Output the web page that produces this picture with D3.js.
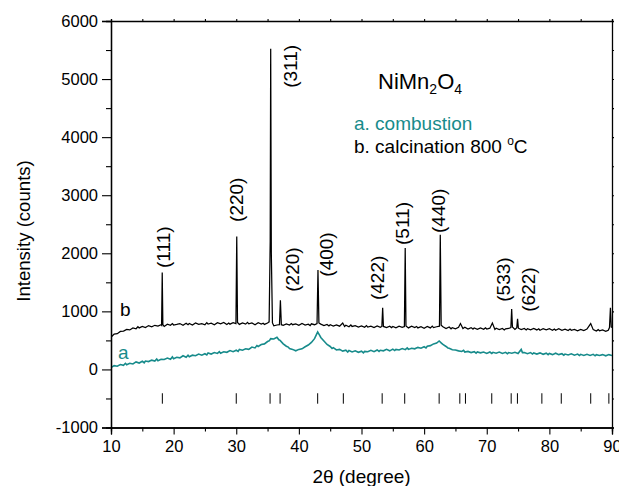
<!DOCTYPE html>
<html lang="en">
<head>
  <meta charset="UTF-8">
  <title>NiMn2O4 XRD</title>
  <script src="https://d3js.org/d3.v7.min.js"></script>
  <style>
    body { margin: 0; background: #fff; }
    text { font-family: Arial, "Liberation Sans", sans-serif; }
  </style>
</head>
<body>
<svg id="canvas" width="619" height="486"></svg>
<script>
// pattern b: calcination 800 C  [2theta, counts]
var seriesB = [
  [10.0,555],[10.5,610],[11.0,615],[11.5,655],[12.0,660],[12.5,690],[13.0,680],[13.5,715],[14.0,700],[14.3,735],
  [14.5,715],[15.0,740],[15.5,720],[16.0,755],[16.5,735],[17.0,760],[17.5,745],[18.0,770],
  [18.08,760],[18.18,1670],[18.28,770],
  [18.5,740],[19.0,780],[19.5,760],[19.8,790],[20.0,765],[20.5,775],[21.0,790],[21.5,760],[22.0,795],[22.3,770],
  [22.5,790],[23.0,765],[23.5,800],[24.0,775],[24.5,790],[25.0,770],[25.3,805],[25.5,780],[26.0,795],[26.5,770],
  [27.0,805],[27.5,785],[28.0,810],[28.5,775],[28.8,800],[29.0,780],[29.5,805],
  [29.95,790],[30.08,2290],[30.2,810],
  [30.5,775],[31.0,800],[31.5,780],[31.8,810],[32.0,785],[32.5,800],[33.0,770],[33.5,805],[34.0,780],[34.3,795],
  [34.5,775],[35.0,800],
  [35.25,820],[35.42,2200],[35.5,5520],[35.6,2000],[35.78,800],
  [36.0,750],[36.5,765],
  [36.9,770],[37.05,1190],[37.2,770],
  [37.5,760],[38.0,785],[38.5,765],[38.8,790],[39.0,770],[39.5,785],[40.0,760],[40.5,790],[41.0,765],[41.5,780],
  [41.8,755],[42.0,785],[42.5,770],
  [42.9,790],[43.05,1710],[43.2,800],
  [43.5,780],[44.0,755],[44.5,775],[44.8,750],[45.0,770],[45.5,745],[46.0,765],[46.5,745],[47.0,800],[47.3,740],
  [47.5,760],[48.0,735],[48.3,765],[48.5,740],[49.0,755],[49.5,730],[50.0,750],[50.5,725],[50.8,755],[51.0,730],
  [51.5,745],[52.0,720],[52.5,750],[53.0,725],
  [53.25,740],[53.38,1060],[53.5,740],
  [54.0,720],[54.5,745],[54.8,720],[55.0,740],[55.5,715],[56.0,745],[56.5,725],
  [56.85,740],[56.98,2090],[57.1,750],
  [57.5,715],[58.0,745],[58.5,720],[58.8,740],[59.0,715],[59.5,735],[60.0,710],[60.5,740],[61.0,715],[61.3,745],
  [61.5,720],[62.0,735],
  [62.45,745],[62.58,2320],[62.72,760],
  [63.0,735],[63.5,705],[64.0,730],[64.3,700],[64.5,720],[65.0,700],[65.5,725],[65.8,790],[66.2,705],[66.5,725],
  [67.0,695],[67.5,720],[67.8,695],[68.0,715],[68.5,690],[69.0,715],[69.5,690],[69.8,715],[70.0,695],[70.5,710],
  [70.9,800],[71.3,690],[71.5,710],[72.0,685],[72.5,705],[72.8,680],[73.0,700],[73.5,705],
  [73.85,720],[73.98,1040],[74.1,730],
  [74.5,690],
  [74.8,720],[74.92,870],[75.05,710],
  [75.5,685],[76.0,705],[76.3,680],[76.5,700],[77.0,680],[77.5,705],[78.0,680],[78.3,700],[78.5,675],[79.0,700],
  [79.5,680],[80.0,700],[80.5,675],[80.8,695],[81.0,675],[81.5,700],[82.0,675],[82.5,695],[83.0,670],[83.3,695],
  [83.5,675],[84.0,690],[84.5,665],[85.0,690],[85.5,670],[86.0,695],[86.6,790],[87.0,685],[87.5,660],[87.8,685],
  [88.0,665],[88.5,680],[89.0,655],[89.4,675],
  [89.6,720],[89.75,1060],[89.88,730],[90.0,720]
];

// pattern a: combustion  [2theta, counts]
var seriesA = [
  [10.0,30],[10.5,65],[11.0,55],[11.5,85],[12.0,70],[12.3,105],[12.5,80],[13.0,105],[13.5,95],[14.0,130],
  [14.5,110],[15.0,140],[15.3,115],[15.5,145],[16.0,135],[16.5,160],[17.0,145],[17.3,180],[17.5,150],[18.0,175],
  [18.5,170],[19.0,195],[19.5,175],[19.8,215],[20.0,185],[20.5,210],[21.0,200],[21.5,235],[22.0,210],[22.3,245],
  [22.5,220],[23.0,245],[23.5,235],[24.0,265],[24.5,245],[25.0,270],[25.3,250],[25.5,285],[26.0,265],[26.5,290],
  [27.0,275],[27.3,305],[27.5,280],[28.0,305],[28.5,295],[29.0,325],[29.5,305],[30.0,330],[30.3,310],[30.5,345],
  [31.0,330],[31.5,355],[32.0,345],[32.5,385],[33.0,370],[33.3,410],[33.5,395],[34.0,430],[34.5,440],[35.0,480],
  [35.3,495],[35.5,530],[36.0,525],[36.5,555],[36.8,510],[37.0,500],[37.5,440],[38.0,400],[38.3,385],[38.5,360],
  [39.0,345],[39.5,320],[40.0,345],[40.5,355],[41.0,390],[41.5,420],[42.0,465],[42.5,530],[42.8,600],[43.0,645],
  [43.3,590],[43.5,550],[44.0,490],[44.5,430],[45.0,395],[45.3,360],[45.5,375],[46.0,335],[46.5,345],[47.0,315],
  [47.5,330],[47.8,300],[48.0,325],[48.5,300],[49.0,320],[49.5,295],[50.0,315],[50.3,285],[50.5,310],[51.0,305],
  [51.5,330],[52.0,305],[52.5,335],[52.8,310],[53.0,330],[53.5,320],[54.0,345],[54.5,320],[55.0,350],[55.3,325],
  [55.5,345],[56.0,335],[56.5,360],[57.0,340],[57.3,370],[57.5,345],[58.0,365],[58.5,355],[59.0,380],[59.5,365],
  [60.0,390],[60.3,370],[60.5,400],[61.0,410],[61.5,440],[62.0,455],[62.4,490],[62.8,450],[63.0,430],[63.5,395],
  [63.8,370],[64.0,365],[64.5,340],[65.0,335],[65.5,320],[66.0,310],[66.3,330],[66.5,300],[67.0,310],[67.5,290],
  [68.0,305],[68.3,280],[68.5,300],[69.0,285],[69.5,300],[70.0,275],[70.5,300],[70.8,275],[71.0,295],[71.5,280],
  [72.0,300],[72.5,275],[73.0,295],[73.3,270],[73.5,290],[74.0,280],[74.5,295],[75.0,275],[75.5,345],[75.7,290],
  [76.0,290],[76.5,270],[77.0,290],[77.3,265],[77.5,285],[78.0,265],[78.5,285],[79.0,260],[79.5,280],[79.8,255],
  [80.0,275],[80.5,255],[81.0,280],[81.5,255],[82.0,270],[82.3,245],[82.5,265],[83.0,250],[83.5,270],[84.0,245],
  [84.5,265],[84.8,240],[85.0,260],[85.5,240],[86.0,260],[86.5,240],[87.0,260],[87.3,235],[87.5,255],[88.0,240],
  [88.5,255],[89.0,235],[89.5,255],[90.0,240]
];

// reference reflection positions (2theta)
var refPositions = [18.2, 30.0, 35.4, 37.0, 43.0, 47.1, 53.3, 56.9, 62.4, 65.7, 66.6, 70.8, 73.9, 74.9, 78.8, 81.9, 86.6, 89.5];

// peak labels: hkl, 2theta, intensity at start of label
var peakHkl   = ["(111)", "(220)", "(311)", "(220)", "(400)", "(422)", "(511)", "(440)", "(533)", "(622)"];
var peakTheta = [18.3, 29.96, 38.6, 38.9, 44.4, 52.4, 56.4, 62.2, 72.6, 76.6];
var peakCount = [1747, 2540, 4850, 1338, 1597, 1195, 2143, 2350, 1166, 993];

var xTicks = [10, 20, 30, 40, 50, 60, 70, 80, 90];
var yTicks = [-1000, 0, 1000, 2000, 3000, 4000, 5000, 6000];

var teal = "#178b8b";
var svg = d3.select("#canvas");
var pLeft = 111, pRight = 612, pTop = 21, pBottom = 427.5;

var x = d3.scaleLinear().domain([10, 90]).range([pLeft, pRight]);
var y = d3.scaleLinear().domain([-1000, 6000]).range([pBottom, pTop]);

svg.append("clipPath").attr("id", "plotclip")
  .append("rect").attr("x", pLeft).attr("y", pTop).attr("width", pRight - pLeft).attr("height", pBottom - pTop);

var line = d3.line().x(function(d) { return x(d[0]); }).y(function(d) { return y(d[1]); });

svg.append("path").datum(seriesA)
  .attr("clip-path", "url(#plotclip)")
  .attr("d", line).attr("fill", "none").attr("stroke", teal).attr("stroke-width", 1.6);

svg.append("path").datum(seriesB)
  .attr("clip-path", "url(#plotclip)")
  .attr("d", line).attr("fill", "none").attr("stroke", "#000").attr("stroke-width", 1.25);

// reference bars
svg.append("g").selectAll("line").data(refPositions).enter().append("line")
  .attr("x1", function(d) { return x(d); }).attr("x2", function(d) { return x(d); })
  .attr("y1", y(-410)).attr("y2", y(-590))
  .attr("stroke", "#000").attr("stroke-width", 1);

// axes
var minorX = d3.range(15, 90, 10);
var minorY = d3.range(-500, 6000, 1000);
var plain = function(d) { return String(d); };

var gx = svg.append("g").attr("transform", "translate(0," + pBottom + ")")
  .call(d3.axisBottom(x).tickValues(xTicks).tickSize(7).tickPadding(6).tickFormat(plain));
gx.append("g").call(d3.axisBottom(x).tickValues(minorX).tickSize(4).tickFormat(""));

var gy = svg.append("g").attr("transform", "translate(" + pLeft + ",0)")
  .call(d3.axisLeft(y).tickValues(yTicks).tickSize(9).tickPadding(4).tickFormat(plain));
gy.append("g").call(d3.axisLeft(y).tickValues(minorY).tickSize(5).tickFormat(""));

svg.append("g").attr("transform", "translate(0," + pTop + ")")
  .call(d3.axisTop(x).tickValues(xTicks.concat(minorX)).tickSize(2).tickFormat(""));
svg.append("g").attr("transform", "translate(" + pRight + ",0)")
  .call(d3.axisRight(y).tickValues(yTicks.concat(minorY)).tickSize(2).tickFormat(""));

svg.selectAll(".domain").attr("stroke", "#000").attr("stroke-width", 1.3);
svg.selectAll(".tick line").attr("stroke", "#000").attr("stroke-width", 1.1);
svg.selectAll(".tick text").attr("font-size", "16.5px").attr("fill", "#000")
  .style("font-family", "Arial, 'Liberation Sans', sans-serif");

// axis titles
svg.append("text").attr("x", x(50)).attr("y", 483).attr("text-anchor", "middle")
  .attr("font-size", "19px").text("2\u03b8 (degree)");
svg.append("text").attr("transform", "translate(30,231) rotate(-90)").attr("text-anchor", "middle")
  .attr("font-size", "18.6px").text("Intensity (counts)");

// peak labels
svg.append("g").selectAll("text").data(peakHkl).enter().append("text")
  .attr("transform", function(d, i) {
    return "translate(" + (x(peakTheta[i]) + 7) + "," + y(peakCount[i]) + ") rotate(-90)";
  })
  .attr("font-size", "19px").text(function(d) { return d; });

// curve tags
svg.append("text").attr("x", 120).attr("y", 316).attr("font-size", "19px").text("b");
svg.append("text").attr("x", 118).attr("y", 359).attr("font-size", "19px").attr("fill", teal).text("a");

// legend
var title = svg.append("text").attr("x", 378).attr("y", 89).attr("font-size", "22px");
title.append("tspan").text("NiMn");
title.append("tspan").attr("font-size", "14px").attr("dy", 5).text("2");
title.append("tspan").attr("dy", -5).text("O");
title.append("tspan").attr("font-size", "14px").attr("dy", 5).text("4");

svg.append("text").attr("x", 354).attr("y", 130).attr("font-size", "19px").attr("fill", teal).text("a. combustion");
var lb = svg.append("text").attr("x", 354).attr("y", 153).attr("font-size", "19px");
lb.append("tspan").text("b. calcination 800 ");
lb.append("tspan").attr("font-size", "12px").attr("dy", -8).text("o");
lb.append("tspan").attr("dy", 8).text("C");
</script>
</body>
</html>
